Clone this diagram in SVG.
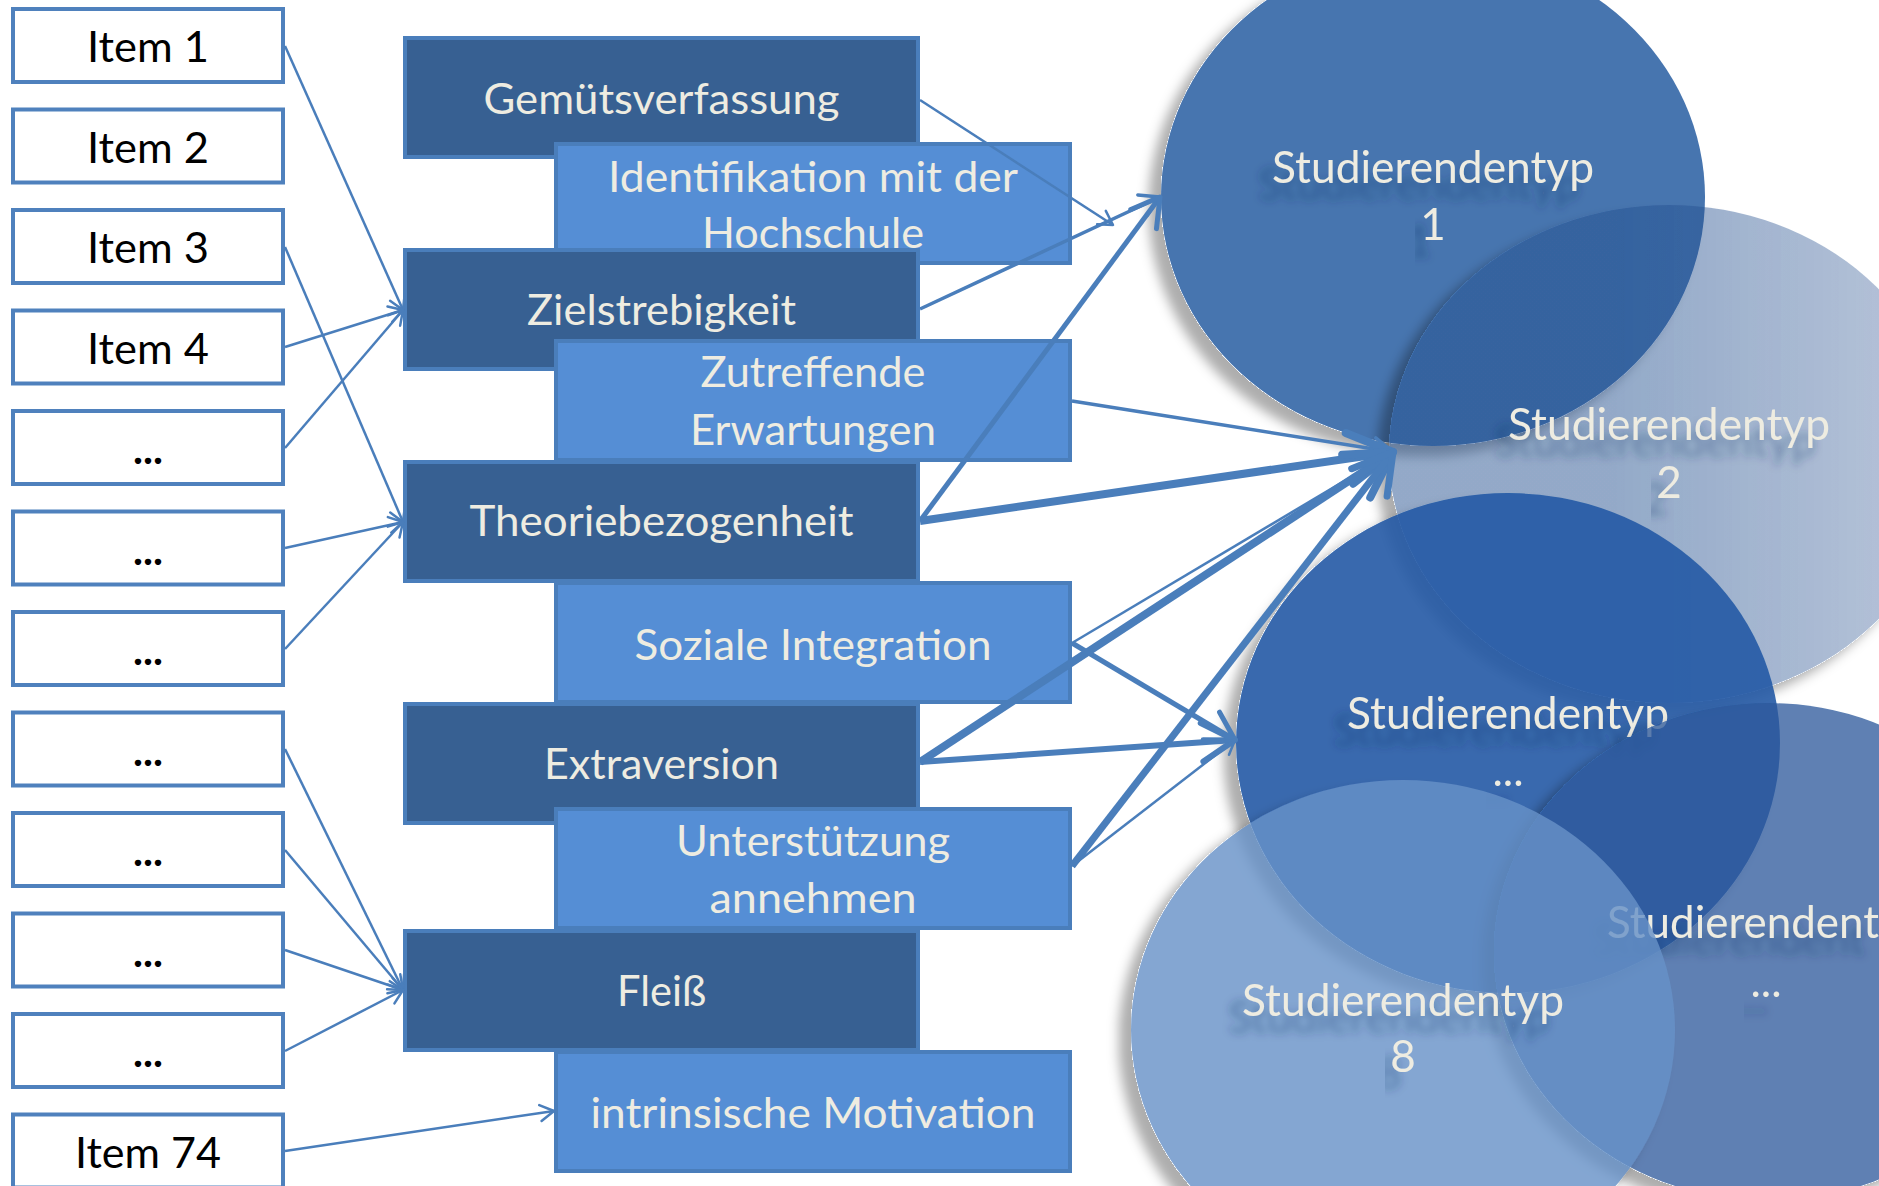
<svg xmlns="http://www.w3.org/2000/svg" width="1879" height="1186" viewBox="0 0 1879 1186">
<defs>
<style>
.ib{fill:#fff;stroke:#4f81bd;stroke-width:4}
.it{font-family:Lato,"Liberation Sans",sans-serif;font-size:42px;fill:#000;text-anchor:middle}
.dots{font-weight:bold}
.db{fill:#376092;stroke:#4a7ebb;stroke-width:4}
.lbx{fill:#558ed5;stroke:#4a7ebb;stroke-width:4}
.lb{font-family:Lato,"Liberation Sans",sans-serif;font-size:42px;fill:#eeece1;text-anchor:middle}
.ct{font-family:Lato,"Liberation Sans",sans-serif;font-size:44px;fill:#eeece1;text-anchor:middle;filter:url(#tsh)}
.cn{fill:none;stroke:#4a7ebb;marker-end:url(#ah)}
</style>
<marker id="ah" markerUnits="strokeWidth" orient="auto" refX="0" refY="0" markerWidth="20" markerHeight="20" viewBox="-10 -10 20 20" overflow="visible">
<path d="M-5.5,-3.2 L0,0 L-5.5,3.2" fill="none" stroke="#4a7ebb" stroke-width="1" stroke-linecap="round" stroke-linejoin="round"/>
</marker>
<filter id="csh" x="-20%" y="-20%" width="140%" height="140%">
<feComponentTransfer in="SourceAlpha" result="A"><feFuncA type="linear" slope="100"/></feComponentTransfer>
<feGaussianBlur in="A" stdDeviation="6"/>
<feOffset dx="-12" dy="10" result="b"/>
<feFlood flood-color="#000" flood-opacity="0.32"/>
<feComposite in2="b" operator="in" result="s"/>
<feComposite in="s" in2="A" operator="out" result="so"/>
<feMerge><feMergeNode in="so"/><feMergeNode in="SourceGraphic"/></feMerge>
</filter>
<filter id="tsh" x="-20%" y="-50%" width="140%" height="200%">
<feDropShadow dx="-14" dy="17" stdDeviation="4" flood-color="#1a355e" flood-opacity="0.38"/>
</filter>
<linearGradient id="g2" x1="0.4" y1="0" x2="1" y2="0">
<stop offset="0" stop-color="#25508f" stop-opacity="0.49"/>
<stop offset="1" stop-color="#25508f" stop-opacity="0.33"/>
</linearGradient>
</defs>

<g id="items">
<g id="item1"><rect class="ib" x="13" y="9" width="270" height="73"/><text class="it" x="148" y="62" textLength="122" lengthAdjust="spacingAndGlyphs">Item 1</text></g>
<g id="item2"><rect class="ib" x="13" y="109.5" width="270" height="73"/><text class="it" x="148" y="162.5" textLength="122" lengthAdjust="spacingAndGlyphs">Item 2</text></g>
<g id="item3"><rect class="ib" x="13" y="210" width="270" height="73"/><text class="it" x="148" y="263" textLength="122" lengthAdjust="spacingAndGlyphs">Item 3</text></g>
<g id="item4"><rect class="ib" x="13" y="310.5" width="270" height="73"/><text class="it" x="148" y="363.5" textLength="122" lengthAdjust="spacingAndGlyphs">Item 4</text></g>
<g id="item5"><rect class="ib" x="13" y="411" width="270" height="73"/><text class="it dots" x="148" y="464">...</text></g>
<g id="item6"><rect class="ib" x="13" y="511.5" width="270" height="73"/><text class="it dots" x="148" y="564.5">...</text></g>
<g id="item7"><rect class="ib" x="13" y="612" width="270" height="73"/><text class="it dots" x="148" y="665">...</text></g>
<g id="item8"><rect class="ib" x="13" y="712.5" width="270" height="73"/><text class="it dots" x="148" y="765.5">...</text></g>
<g id="item9"><rect class="ib" x="13" y="813" width="270" height="73"/><text class="it dots" x="148" y="866">...</text></g>
<g id="item10"><rect class="ib" x="13" y="913.5" width="270" height="73"/><text class="it dots" x="148" y="966.5">...</text></g>
<g id="item11"><rect class="ib" x="13" y="1014" width="270" height="73"/><text class="it dots" x="148" y="1067">...</text></g>
<g id="item74"><rect class="ib" x="13" y="1114.5" width="270" height="73"/><text class="it" x="148" y="1167.5" textLength="146" lengthAdjust="spacingAndGlyphs">Item 74</text></g>
</g>

<g id="constructs">
<g id="gemuetsverfassung"><rect class="db" x="405" y="38" width="513" height="119"/><text class="lb" x="661.5" y="114" textLength="356" lengthAdjust="spacingAndGlyphs">Gemütsverfassung</text></g>
<g id="identifikation"><rect class="lbx" x="556" y="144" width="514" height="119"/><text class="lb" x="813" y="192" textLength="410" lengthAdjust="spacingAndGlyphs">Identifikation mit der</text><text class="lb" x="813" y="248" textLength="222" lengthAdjust="spacingAndGlyphs">Hochschule</text></g>
<g id="zielstrebigkeit"><rect class="db" x="405" y="250" width="513" height="119"/><text class="lb" x="661.5" y="325" textLength="269" lengthAdjust="spacingAndGlyphs">Zielstrebigkeit</text></g>
<g id="zutreffende"><rect class="lbx" x="556" y="341" width="514" height="119"/><text class="lb" x="813" y="387" textLength="225" lengthAdjust="spacingAndGlyphs">Zutreffende</text><text class="lb" x="813" y="445" textLength="246" lengthAdjust="spacingAndGlyphs">Erwartungen</text></g>
<g id="theoriebezogenheit"><rect class="db" x="405" y="462" width="513" height="119"/><text class="lb" x="661.5" y="536" textLength="384" lengthAdjust="spacingAndGlyphs">Theoriebezogenheit</text></g>
<g id="soziale"><rect class="lbx" x="556" y="583" width="514" height="119"/><text class="lb" x="813" y="660" textLength="357" lengthAdjust="spacingAndGlyphs">Soziale Integration</text></g>
<g id="extraversion"><rect class="db" x="405" y="704" width="513" height="119"/><text class="lb" x="661.5" y="779" textLength="235" lengthAdjust="spacingAndGlyphs">Extraversion</text></g>
<g id="unterstuetzung"><rect class="lbx" x="556" y="809" width="514" height="119"/><text class="lb" x="813" y="856" textLength="274" lengthAdjust="spacingAndGlyphs">Unterstützung</text><text class="lb" x="813" y="913" textLength="207" lengthAdjust="spacingAndGlyphs">annehmen</text></g>
<g id="fleiss"><rect class="db" x="405" y="931" width="513" height="119"/><text class="lb" x="661.5" y="1006" textLength="89" lengthAdjust="spacingAndGlyphs">Fleiß</text></g>
<g id="intrinsisch"><rect class="lbx" x="556" y="1052" width="514" height="119"/><text class="lb" x="813" y="1128" textLength="445" lengthAdjust="spacingAndGlyphs">intrinsische Motivation</text></g>
</g>

<g id="types">
<g id="typ1"><ellipse cx="1433" cy="197" rx="272" ry="249" fill="#4674af" filter="url(#csh)"/><text class="ct" x="1433" y="183" textLength="322" lengthAdjust="spacingAndGlyphs">Studierendentyp</text><text class="ct" x="1433" y="240">1</text></g>
<g id="typ2"><ellipse cx="1669" cy="454" rx="280" ry="249" fill="url(#g2)" filter="url(#csh)"/><text class="ct" x="1669" y="440" textLength="322" lengthAdjust="spacingAndGlyphs">Studierendentyp</text><text class="ct" x="1669" y="498">2</text></g>
<g id="typ3"><ellipse cx="1508" cy="743" rx="272" ry="250" fill="#225aa5" fill-opacity="0.9" filter="url(#csh)"/><text class="ct" x="1508" y="729" textLength="322" lengthAdjust="spacingAndGlyphs">Studierendentyp</text><text class="ct" x="1508" y="786">...</text></g>
<g id="typ4"><ellipse cx="1768" cy="952" rx="274" ry="249" fill="#2a589b" fill-opacity="0.76" filter="url(#csh)"/><text class="ct" x="1607" y="938" style="text-anchor:start" textLength="272" lengthAdjust="spacingAndGlyphs">Studierendent</text><text class="ct" x="1766" y="997">...</text></g>
<g id="typ8"><ellipse cx="1403" cy="1030" rx="272" ry="250" fill="#6891c8" fill-opacity="0.81" filter="url(#csh)"/><text class="ct" x="1403" y="1016" textLength="322" lengthAdjust="spacingAndGlyphs">Studierendentyp</text><text class="ct" x="1403" y="1072">8</text></g>
</g>

<g id="connectors">
<path class="cn" stroke-width="2.5" d="M285,46 L403,310"/>
<path class="cn" stroke-width="2.5" d="M285,247 L403,522"/>
<path class="cn" stroke-width="2.5" d="M285,347 L403,310"/>
<path class="cn" stroke-width="2.5" d="M285,448 L403,310"/>
<path class="cn" stroke-width="2.5" d="M285,548 L403,522"/>
<path class="cn" stroke-width="2.5" d="M285,649 L403,522"/>
<path class="cn" stroke-width="2.5" d="M285,749 L403,990"/>
<path class="cn" stroke-width="2.5" d="M285,850 L403,990"/>
<path class="cn" stroke-width="2.5" d="M285,950 L403,990"/>
<path class="cn" stroke-width="2.5" d="M285,1051 L403,990"/>
<path class="cn" stroke-width="2.5" d="M285,1151 L554,1111"/>
<path class="cn" stroke-width="2.5" d="M920,100 L1113,225"/>
<path class="cn" stroke-width="3.5" d="M920,309 L1160,197"/>
<path class="cn" stroke-width="5" d="M920,521 L1160,197"/>
<path class="cn" stroke-width="3.5" d="M1072,401 L1393,452"/>
<path class="cn" stroke-width="8" d="M920,521 L1393,452"/>
<path class="cn" stroke-width="2.5" d="M1072,643 L1393,452"/>
<path class="cn" stroke-width="8" d="M920,762 L1393,452"/>
<path class="cn" stroke-width="7" d="M1072,866 L1393,452"/>
<path class="cn" stroke-width="5" d="M1072,643 L1235,740"/>
<path class="cn" stroke-width="6" d="M920,762 L1235,740"/>
<path class="cn" stroke-width="2.5" d="M1072,866 L1235,740"/>
</g>
</svg>
